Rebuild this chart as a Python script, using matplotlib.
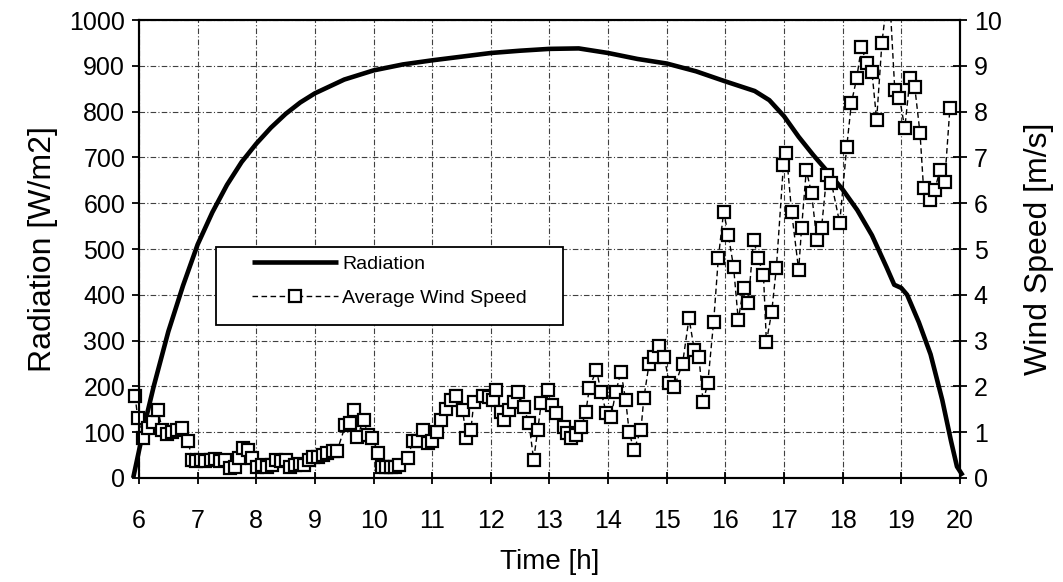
import matplotlib
matplotlib.use("Agg")
import matplotlib.pyplot as plt
from matplotlib.patches import Rectangle
from matplotlib.transforms import Bbox, TransformedBbox

plt.rcParams['font.family'] = ['Liberation Sans', 'DejaVu Sans']

# Global radiation (W/m2) over the day
rad_t = [5.9, 6.0, 6.1, 6.25, 6.5, 6.75, 7.0, 7.25, 7.5, 7.75, 8.0, 8.25, 8.5, 8.75,
         9.0, 9.5, 10.0, 10.5, 11.0, 11.5, 12.0, 12.5, 13.0, 13.5, 14.0, 14.5, 15.0,
         15.5, 16.0, 16.5, 16.75, 17.0, 17.25, 17.5, 17.75, 18.0, 18.25, 18.5, 18.75,
         18.88, 19.0, 19.1, 19.3, 19.5, 19.7, 19.85, 19.95, 20.05]
rad_v = [0, 60, 120, 200, 320, 420, 510, 580, 640, 690, 730, 765, 795, 820,
         840, 870, 890, 903, 912, 920, 928, 933, 937, 938, 928, 915, 905,
         888, 866, 845, 825, 790, 745, 705, 668, 630, 585, 530, 460,
         422, 415, 400, 340, 270, 170, 80, 25, 5]

# Average wind speed (m/s)
wind_t = [5.93, 5.98, 6.07, 6.15, 6.24, 6.32, 6.40, 6.48, 6.56, 6.65, 6.73, 6.84,
          6.90, 6.97, 7.05, 7.13, 7.22, 7.30, 7.38, 7.46, 7.55, 7.63, 7.70, 7.78,
          7.86, 7.93, 8.02, 8.10, 8.18, 8.26, 8.34, 8.42, 8.50, 8.58, 8.66, 8.74,
          8.82, 8.90, 8.97, 9.05, 9.13, 9.21, 9.30, 9.38, 9.52, 9.59, 9.66, 9.72,
          9.83, 9.90, 9.98, 10.08, 10.15, 10.22, 10.29, 10.36, 10.43, 10.58, 10.67,
          10.75, 10.84, 10.92, 11.00, 11.09, 11.15, 11.24, 11.32, 11.40, 11.52,
          11.58, 11.66, 11.71, 11.86, 11.97, 12.03, 12.09, 12.17, 12.22, 12.31,
          12.40, 12.46, 12.56, 12.65, 12.73, 12.80, 12.86, 12.97, 13.04, 13.11,
          13.25, 13.30, 13.37, 13.45, 13.54, 13.62, 13.68, 13.80, 13.88, 13.97,
          14.05, 14.13, 14.22, 14.30, 14.36, 14.44, 14.56, 14.61, 14.70, 14.78,
          14.86, 14.96, 15.04, 15.13, 15.27, 15.38, 15.47, 15.55, 15.62, 15.70,
          15.80, 15.88, 15.97, 16.05, 16.14, 16.22, 16.31, 16.39, 16.48, 16.56,
          16.65, 16.70, 16.79, 16.87, 16.99, 17.04, 17.13, 17.25, 17.30, 17.38,
          17.47, 17.56, 17.64, 17.73, 17.81, 17.95, 18.07, 18.15, 18.24, 18.32,
          18.41, 18.50, 18.58, 18.67, 18.79, 18.89, 18.97, 19.06, 19.15, 19.23,
          19.32, 19.38, 19.49, 19.57, 19.66, 19.74, 19.83]
wind_v = [1.8, 1.3, 0.88, 1.1, 1.22, 1.48, 1.05, 0.95, 1.0, 1.05, 1.1, 0.8,
          0.4, 0.38, 0.4, 0.38, 0.4, 0.42, 0.38, 0.4, 0.22, 0.24, 0.44, 0.65,
          0.62, 0.44, 0.25, 0.28, 0.25, 0.28, 0.4, 0.38, 0.4, 0.25, 0.28, 0.3,
          0.28, 0.4, 0.45, 0.46, 0.5, 0.55, 0.6, 0.6, 1.15, 1.2, 1.48, 0.9,
          1.27, 0.94, 0.87, 0.55, 0.25, 0.25, 0.25, 0.25, 0.28, 0.44, 0.8,
          0.8, 1.05, 0.77, 0.8, 1.0, 1.27, 1.5, 1.7, 1.8, 1.48,
          0.87, 1.05, 1.66, 1.8, 1.77, 1.7, 1.92, 1.44, 1.27, 1.48,
          1.66, 1.88, 1.55, 1.2, 0.4, 1.05, 1.64, 1.92, 1.6, 1.42,
          1.11, 0.98, 0.87, 0.94, 1.11, 1.44, 1.96, 2.36, 1.88, 1.42,
          1.33, 1.88, 2.31, 1.7, 1.0, 0.61, 1.05, 1.75, 2.5, 2.64,
          2.88, 2.64, 2.07, 1.99, 2.5, 3.49, 2.8, 2.64, 1.66, 2.07,
          3.41, 4.8, 5.81, 5.31, 4.61, 3.45, 4.15, 3.82, 5.2, 4.8,
          4.43, 2.97, 3.62, 4.59, 6.83, 7.1, 5.81, 4.54, 5.46, 6.72,
          6.22, 5.2, 5.46, 6.62, 6.44, 5.57, 7.23, 8.19, 8.73, 9.41,
          9.06, 8.87, 7.82, 9.5, 10.8, 8.47, 8.3, 7.64, 8.73, 8.54,
          7.53, 6.33, 6.07, 6.29, 6.72, 6.46, 8.08]

x_ticks = list(range(6, 21))
rad_ticks = list(range(0, 1001, 100))
wind_ticks = list(range(0, 11))

fig = plt.figure(figsize=(10.63, 5.82), dpi=100)
ax = fig.add_axes([0.1308, 0.1787, 0.7722, 0.7869])
ax2 = ax.twinx()

grid_style = dict(color='0.25', linestyle=(0, (5, 2, 1, 2)), linewidth=0.8)
ax.set_xlim(6, 20)
ax.set_ylim(0, 1000)
ax2.set_ylim(0, 10)
ax.set_xticks(x_ticks)
ax.set_yticks(rad_ticks)
ax2.set_yticks(wind_ticks)
ax.grid(True, **grid_style)
ax.set_axisbelow(True)

l_rad, = ax.plot(rad_t, rad_v, color='black', linewidth=3.3, clip_on=False,
                 solid_capstyle='butt', label='Radiation', zorder=3)
l_wind, = ax2.plot(wind_t, wind_v, color='black', linestyle=(0, (4, 2.5)),
                   linewidth=1.0, marker='s', markersize=8.5, markerfacecolor='white',
                   markeredgecolor='black', markeredgewidth=1.6,
                   label='Average Wind Speed')
l_wind.set_clip_box(TransformedBbox(Bbox([[-0.03, 0], [1, 1]]), ax2.transAxes))

for a in (ax, ax2):
    for s in a.spines.values():
        s.set_linewidth(1.5)

ax.tick_params(axis='x', direction='inout', length=9, width=1.3, labelsize=18, pad=18)
ax.tick_params(axis='y', direction='out', length=5, width=1.3, labelsize=18, pad=5)
ax2.tick_params(axis='y', direction='inout', length=10, width=1.3, labelsize=18, pad=5)

ax.set_xlabel('Time [h]', fontsize=20, labelpad=11)
ax.set_ylabel('Radiation [W/m2]', fontsize=23, labelpad=8)
ax2.set_ylabel('Wind Speed [m/s]', fontsize=23, labelpad=16)

# legend box (white, black frame) with the entries inside
ax2.add_patch(Rectangle((0.094, 0.334), 0.423, 0.17, transform=ax2.transAxes,
                        facecolor='white', edgecolor='black', linewidth=1.3,
                        zorder=4))
leg = ax2.legend([l_rad, l_wind], ['Radiation', 'Average Wind Speed'],
                 loc='upper left', bbox_to_anchor=(0.1376, 0.486), fontsize=14,
                 handlelength=4.4, handletextpad=0.25, labelspacing=0.85,
                 frameon=False, borderpad=0, borderaxespad=0)
leg.set_zorder(5)

fig.savefig('out.png', dpi=100)
